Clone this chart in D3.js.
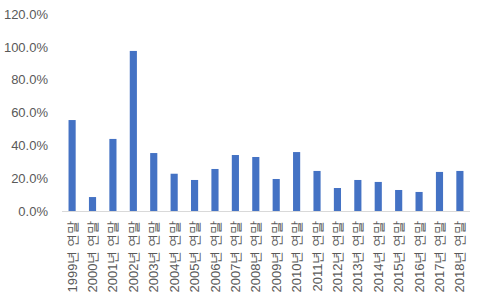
<!DOCTYPE html>
<html>
<head>
<meta charset="utf-8">
<script src="https://cdn.jsdelivr.net/npm/d3@7"></script>
<style>
  body { margin: 0; background: #fff; }
  svg { display: block; font-family: "Liberation Sans", "Noto Sans CJK KR", sans-serif; }
</style>
</head>
<body>
<svg id="chart" width="483" height="305"></svg>
<script>
// categories & values (share, %)
const years  = ["1999","2000","2001","2002","2003","2004","2005","2006","2007","2008",
                "2009","2010","2011","2012","2013","2014","2015","2016","2017","2018"];
const labels = years.map(y => y + "년 연말");
const values = [55.4, 8.5, 43.9, 97.5, 35.3, 22.7, 18.9, 25.6, 34.1, 32.9,
                19.5, 35.9, 24.4, 14.0, 18.9, 17.7, 12.8, 11.6, 23.8, 24.4];
const yTicks = [0, 20, 40, 60, 80, 100, 120];

const svg = d3.select("#chart"),
      m   = {top:14, right:13, bottom:94, left:62},
      iw  = 483 - m.left - m.right,
      ih  = 305 - m.top  - m.bottom;

const g = svg.append("g")
    .attr("transform", `translate(${m.left},${m.top})`);

const x = d3.scaleBand()
    .domain(labels)
    .range([0, iw])
    .paddingInner(0.65)
    .paddingOuter(0.32);

const y = d3.scaleLinear()
    .domain([0, 120])
    .range([ih, 0]);

// bars
g.selectAll("rect")
  .data(values).enter().append("rect")
    .attr("x",      (d, i) => x(labels[i]))
    .attr("y",      d => y(d))
    .attr("width",  x.bandwidth())
    .attr("height", d => ih - y(d))
    .attr("fill",   "#4472c4");

// y axis labels (no line)
const yAx = g.append("g")
    .call(d3.axisLeft(y).tickValues(yTicks).tickSize(0).tickPadding(14)
      .tickFormat(d => d.toFixed(1) + "%"));
yAx.select(".domain").remove();
yAx.selectAll("text")
    .attr("fill", "#595959")
    .style("font-size", "13px");

// x axis
const xAx = g.append("g")
    .attr("transform", `translate(0,${ih})`)
    .call(d3.axisBottom(x).tickSize(0));
xAx.select(".domain")
    .attr("stroke", "#d9d9d9")
    .attr("d", `M0,0.5H${iw}`);
xAx.selectAll("text")
    .attr("fill", "#595959")
    .style("font-size", "13px")
    .attr("transform", "rotate(-90)")
    .attr("x", -10)
    .attr("y", 0)
    .attr("dy", "0.35em")
    .style("text-anchor", "end");
</script>
</body>
</html>
